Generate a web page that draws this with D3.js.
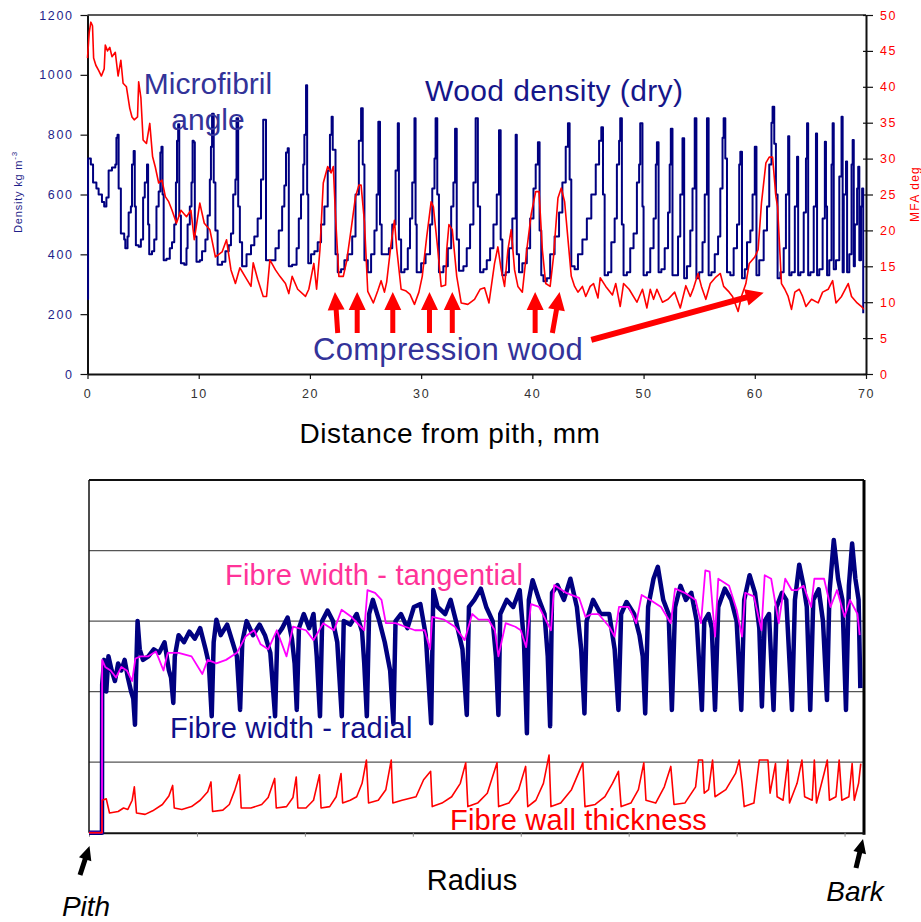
<!DOCTYPE html>
<html>
<head>
<meta charset="utf-8">
<script src="https://cdn.jsdelivr.net/npm/d3@7"></script>
<style>
  html, body { margin: 0; padding: 0; background: #ffffff; }
  svg { display: block; font-family: "Liberation Sans", Arial, sans-serif; }
</style>
</head>
<body>
<svg id="chart" width="921" height="922"></svg>
<script>
// ---------- Upper panel: wood density and microfibril angle vs distance from pith ----------
const densityTicks = [0, 200, 400, 600, 800, 1000, 1200];
const mfaTicks = [0, 5, 10, 15, 20, 25, 30, 35, 40, 45, 50];
const distanceTicks = [0, 10, 20, 30, 40, 50, 60, 70];

// [distance mm, dry density kg/m3]
const density = [
  [0, 250], [0.05, 720], [0.3, 700], [0.5, 640], [0.8, 620], [1.0, 600], [1.3, 575], [1.5, 560], [1.7, 590],
  [1.9, 680], [2.2, 690], [2.5, 700], [2.6, 790], [2.7, 800], [2.8, 620], [3.0, 470], [3.3, 450], [3.4, 420],
  [3.6, 460], [3.7, 540], [3.9, 560], [4.0, 700], [4.15, 745], [4.25, 560], [4.35, 430], [4.6, 425], [4.8, 450],
  [5.0, 590], [5.15, 640], [5.35, 700], [5.45, 500], [5.55, 400], [5.8, 410], [6.0, 450], [6.2, 560], [6.4, 610],
  [6.55, 740], [6.65, 760], [6.75, 600], [6.85, 380], [7.1, 385], [7.4, 420], [7.6, 440], [7.8, 500], [7.95, 640],
  [8.05, 780], [8.15, 835], [8.25, 530], [8.4, 370], [8.7, 365], [8.9, 420], [9.0, 500], [9.2, 560], [9.35, 640],
  [9.45, 780], [9.55, 775], [9.65, 460], [9.8, 375], [10.1, 380], [10.3, 410], [10.6, 450], [10.8, 530], [11.0, 650],
  [11.1, 760], [11.2, 870], [11.35, 640], [11.5, 480], [11.7, 365], [12.1, 375], [12.4, 410], [12.7, 430], [12.9, 470],
  [13.1, 600], [13.3, 650], [13.4, 855], [13.55, 560], [13.7, 440], [13.9, 360], [14.3, 400], [14.7, 430], [15.0, 460],
  [15.3, 520], [15.6, 650], [15.8, 850], [15.9, 850], [16.05, 380], [16.5, 380], [16.9, 420], [17.2, 480], [17.5, 560],
  [17.7, 630], [17.85, 740], [18.0, 755], [18.1, 360], [18.4, 365], [18.8, 420], [19.0, 520], [19.2, 600], [19.4, 700],
  [19.5, 800], [19.65, 965], [19.75, 600], [19.85, 370], [20.1, 400], [20.4, 410], [20.7, 440], [21.0, 500], [21.3, 560],
  [21.6, 680], [21.8, 800], [21.95, 860], [22.05, 750], [22.3, 400], [22.5, 340], [22.8, 350], [23.1, 380], [23.4, 400],
  [23.8, 460], [24.1, 600], [24.4, 780], [24.6, 888], [24.75, 700], [24.9, 380], [25.2, 340], [25.5, 400], [25.8, 480],
  [26.0, 600], [26.15, 843], [26.3, 500], [26.45, 400], [26.8, 400], [27.1, 420], [27.4, 500], [27.7, 680], [27.9, 838],
  [28.0, 450], [28.2, 340], [28.5, 350], [28.8, 420], [29.0, 520], [29.2, 640], [29.4, 855], [29.5, 500], [29.6, 340],
  [30.0, 370], [30.4, 400], [30.8, 500], [31.0, 620], [31.2, 720], [31.3, 855], [31.45, 600], [31.6, 340], [32.0, 360],
  [32.4, 420], [32.7, 560], [32.9, 640], [33.05, 820], [33.2, 450], [33.4, 345], [33.8, 360], [34.1, 420], [34.4, 500],
  [34.7, 640], [34.9, 855], [35.1, 560], [35.3, 340], [35.6, 350], [35.9, 380], [36.2, 420], [36.5, 500], [36.8, 600],
  [37.0, 815], [37.15, 450], [37.3, 330], [37.6, 340], [37.9, 420], [38.2, 520], [38.5, 800], [38.6, 400], [38.8, 340],
  [39.1, 370], [39.5, 420], [39.8, 520], [40.1, 620], [40.3, 700], [40.5, 775], [40.65, 480], [40.8, 330], [41.0, 310],
  [41.3, 320], [41.6, 400], [42.0, 460], [42.4, 540], [42.7, 640], [43.0, 760], [43.2, 838], [43.35, 650], [43.5, 360],
  [43.8, 350], [44.1, 400], [44.5, 450], [44.9, 520], [45.3, 600], [45.7, 700], [46.0, 780], [46.2, 825], [46.35, 600],
  [46.5, 330], [46.8, 340], [47.1, 440], [47.4, 520], [47.6, 700], [47.8, 780], [47.9, 855], [48.05, 500], [48.2, 330],
  [48.5, 340], [48.8, 420], [49.1, 470], [49.4, 640], [49.6, 700], [49.7, 838], [49.9, 560], [50.0, 330], [50.3, 340],
  [50.6, 420], [50.9, 520], [51.1, 700], [51.2, 775], [51.35, 340], [51.6, 350], [51.9, 420], [52.2, 540], [52.35, 700],
  [52.45, 820], [52.6, 330], [52.8, 330], [53.1, 460], [53.3, 600], [53.5, 788], [53.65, 320], [53.9, 360], [54.2, 480],
  [54.4, 620], [54.6, 855], [54.75, 320], [55.0, 340], [55.3, 440], [55.5, 600], [55.7, 855], [55.85, 330], [56.1, 340],
  [56.4, 400], [56.7, 460], [56.9, 620], [57.1, 790], [57.2, 855], [57.35, 720], [57.5, 340], [57.8, 330], [58.1, 420],
  [58.4, 500], [58.6, 700], [58.7, 743], [58.85, 320], [59.1, 350], [59.3, 440], [59.6, 480], [59.8, 600], [60.0, 760],
  [60.15, 330], [60.4, 380], [60.8, 480], [61.1, 560], [61.3, 700], [61.5, 840], [61.6, 893], [61.75, 770], [61.9, 600],
  [62.05, 320], [62.3, 340], [62.6, 420], [62.8, 600], [63.0, 795], [63.1, 330], [63.3, 340], [63.6, 560], [63.8, 726],
  [63.9, 330], [64.1, 340], [64.4, 540], [64.6, 720], [64.7, 838], [64.8, 330], [65.0, 340], [65.3, 560], [65.5, 804],
  [65.6, 330], [65.8, 350], [66.1, 520], [66.3, 776], [66.4, 560], [66.5, 330], [66.7, 380], [66.9, 700], [67.0, 838],
  [67.1, 350], [67.3, 380], [67.6, 660], [67.8, 860], [67.9, 340], [68.0, 600], [68.2, 710], [68.3, 340], [68.5, 400],
  [68.7, 700], [68.8, 782], [68.9, 360], [69.0, 500], [69.2, 620], [69.3, 693], [69.4, 380], [69.55, 560], [69.65, 620],
  [69.75, 203]
];

// [distance mm, microfibril angle deg]
const mfa = [
  [0, 44.0], [0.15, 47.5], [0.3, 49.0], [0.45, 48.5], [0.55, 44.0], [0.75, 43.0], [1.0, 42.3], [1.25, 41.5], [1.5, 42.5],
  [1.6, 45.8], [1.8, 45.0], [2.0, 45.5], [2.2, 44.2], [2.5, 44.8], [2.75, 41.5], [3.0, 43.7], [3.2, 40.5], [3.5, 40.0],
  [3.8, 37.0], [4.0, 35.8], [4.2, 35.4], [4.5, 35.8], [4.6, 40.7], [4.8, 38.5], [5.0, 32.6], [5.3, 32.1], [5.6, 34.9],
  [5.85, 30.3], [6.1, 28.8], [6.4, 26.6], [6.7, 27.0], [7.0, 24.7], [7.3, 24.0], [7.6, 22.8], [8.0, 21.0], [8.4, 22.8],
  [8.9, 21.9], [9.3, 22.8], [9.6, 18.7], [10.1, 23.8], [10.5, 21.0], [11.0, 20.1], [11.5, 16.3], [12.1, 17.0], [12.5, 18.7],
  [12.9, 14.5], [13.3, 12.6], [13.7, 14.8], [14.2, 13.5], [14.7, 12.2], [14.9, 15.5], [15.3, 13.2], [15.8, 10.8], [16.1, 10.8],
  [16.4, 15.9], [16.9, 14.5], [17.3, 13.6], [17.8, 12.6], [18.1, 11.2], [18.4, 13.6], [18.9, 11.8], [19.6, 10.8], [19.9, 11.8],
  [20.35, 15.4], [20.6, 11.8], [20.9, 17.3], [21.2, 26.6], [21.6, 28.9], [21.9, 28.0], [22.1, 28.9], [22.3, 22.0], [22.6, 13.6],
  [23.0, 13.6], [23.3, 15.7], [23.7, 20.1], [24.1, 24.7], [24.4, 26.3], [24.6, 26.3], [24.9, 21.2], [25.2, 11.5], [25.7, 9.9],
  [26.1, 11.6], [26.4, 13.0], [26.7, 11.4], [26.9, 12.8], [27.3, 18.2], [27.6, 21.4], [27.8, 17.5], [28.2, 11.8], [28.6, 11.6],
  [29.0, 11.1], [29.4, 9.7], [29.8, 11.4], [30.1, 13.6], [30.5, 19.1], [30.9, 24.0], [31.1, 23.3], [31.5, 17.3], [31.8, 12.2],
  [32.2, 12.4], [32.3, 17.3], [32.5, 20.8], [32.8, 20.1], [33.2, 13.6], [33.6, 9.9], [34.2, 9.7], [34.8, 10.4], [35.3, 11.8],
  [35.7, 12.0], [36.1, 9.9], [36.6, 15.4], [36.9, 17.7], [37.2, 14.5], [37.5, 12.2], [37.8, 17.3], [38.1, 20.1], [38.4, 14.5],
  [38.7, 12.2], [39.1, 11.4], [39.5, 17.3], [39.9, 22.3], [40.3, 25.4], [40.6, 25.4], [40.9, 17.3], [41.2, 12.6], [41.6, 12.2],
  [41.9, 16.3], [42.3, 24.5], [42.6, 25.9], [42.9, 24.0], [43.5, 13.6], [43.8, 12.2], [44.1, 11.4], [44.5, 12.2], [44.8, 10.8],
  [45.2, 12.2], [45.5, 12.6], [45.9, 10.6], [46.1, 13.4], [46.6, 12.2], [47.2, 11.0], [47.5, 12.6], [47.9, 9.4], [48.2, 12.6],
  [48.7, 11.8], [49.4, 10.0], [49.9, 11.8], [50.3, 9.2], [50.6, 11.8], [50.9, 10.4], [51.2, 11.8], [51.7, 10.0], [52.2, 10.4],
  [52.8, 11.4], [53.3, 9.2], [53.8, 12.3], [54.2, 10.8], [54.5, 12.0], [54.9, 14.0], [55.2, 12.2], [55.6, 10.4], [56.0, 12.6],
  [56.5, 13.5], [56.9, 14.0], [57.2, 12.2], [57.7, 11.4], [58.0, 10.8], [58.5, 8.7], [58.8, 10.8], [59.2, 12.6], [59.5, 15.4],
  [60.0, 16.3], [60.3, 17.3], [60.6, 23.8], [61.0, 29.4], [61.3, 30.2], [61.6, 30.2], [61.9, 24.7], [62.05, 23.3], [62.4, 12.6],
  [62.7, 11.8], [63.0, 10.8], [63.3, 9.0], [63.6, 11.4], [64.0, 11.8], [64.3, 10.8], [64.6, 9.4], [65.1, 10.4], [65.7, 9.9],
  [66.1, 11.4], [66.6, 11.8], [67.0, 13.0], [67.3, 9.9], [67.8, 10.8], [68.4, 12.6], [68.7, 10.8], [69.2, 9.9], [69.6, 9.4],
  [69.8, 9.0]
];

// compression wood markers: [from mm, from kg/m3, to mm, to kg/m3]
const compressionArrows = [
  [22.5, 137, 22.25, 274], [24.25, 137, 24.25, 274], [27.45, 137, 27.45, 274], [30.75, 137, 30.75, 274],
  [32.8, 137, 32.8, 274], [40.25, 137, 40.25, 274], [41.8, 137, 42.45, 274], [45.3, 114, 60.8, 272]
];

// ---------- Lower panel: fibre dimensions across the radius ----------
const radiusTicks = [0, 10, 20, 30, 40, 50, 60, 70];
const fibreGrid = [1, 2, 3, 4];

// [radius, radial fibre width]
const radialWidth = [
  [0, 0], [1.2, 0], [1.22, 2.1], [1.4, 2.45], [1.6, 2.0], [1.8, 2.5], [2.1, 2.3], [2.4, 2.15], [2.7, 2.4], [3.0, 2.3],
  [3.3, 2.45], [3.6, 2.2], [3.9, 2.0], [4.1, 1.9], [4.26, 1.53], [4.35, 2.2], [4.5, 3.0], [4.7, 2.6], [5.0, 2.45], [5.5, 2.5],
  [6.0, 2.6], [6.5, 2.55], [7.0, 2.7], [7.4, 2.3], [7.6, 2.2], [7.81, 1.84], [7.95, 2.5], [8.3, 2.8], [8.8, 2.7], [9.3, 2.85],
  [9.8, 2.75], [10.3, 2.9], [10.8, 2.6], [11.1, 2.4], [11.37, 1.65], [11.55, 2.7], [11.8, 3.02], [12.2, 2.8], [12.8, 2.95],
  [13.3, 2.7], [13.7, 2.5], [14.0, 1.74], [14.2, 2.7], [14.6, 3.0], [15.2, 2.8], [15.8, 2.95], [16.3, 2.8], [16.8, 2.55],
  [17.24, 1.65], [17.45, 2.8], [17.9, 2.9], [18.4, 3.05], [18.8, 2.75], [19.05, 2.4], [19.25, 1.74], [19.45, 2.9], [19.9, 3.1],
  [20.4, 2.9], [20.8, 3.1], [21.1, 2.5], [21.4, 1.65], [21.6, 3.0], [22.1, 3.15], [22.6, 3.0], [23.0, 2.7], [23.42, 1.65],
  [23.6, 3.0], [24.2, 2.95], [24.8, 3.1], [25.3, 2.85], [25.5, 2.4], [25.74, 1.65], [25.95, 3.1], [26.3, 3.3], [26.9, 3.0],
  [27.4, 2.7], [27.9, 2.3], [28.2, 1.55], [28.4, 3.0], [28.9, 3.1], [29.5, 2.9], [30.1, 3.2], [30.7, 3.24], [31.2, 2.8],
  [31.7, 1.55], [31.9, 3.44], [32.3, 3.2], [33.0, 3.1], [33.5, 3.3], [34.0, 3.0], [34.6, 2.6], [35.0, 1.67], [35.2, 3.2],
  [35.7, 3.3], [36.3, 3.46], [36.8, 3.2], [37.4, 3.0], [37.7, 2.5], [37.93, 1.67], [38.1, 3.1], [38.7, 3.3], [39.3, 3.2],
  [39.9, 3.44], [40.3, 2.7], [40.57, 1.41], [40.75, 3.3], [41.1, 3.58], [41.7, 3.3], [42.2, 3.1], [42.5, 2.5], [42.72, 1.51],
  [42.9, 3.4], [43.4, 3.51], [44.0, 3.3], [44.6, 3.6], [45.2, 3.2], [45.6, 2.6], [45.9, 1.69], [46.1, 3.0], [46.7, 3.3],
  [47.4, 3.1], [48.2, 3.1], [48.7, 2.6], [49.05, 1.74], [49.3, 3.1], [49.8, 3.27], [50.5, 3.1], [51.0, 2.8], [51.3, 2.5],
  [51.53, 1.69], [51.8, 3.2], [52.3, 3.6], [52.7, 3.77], [53.2, 3.3], [53.7, 3.1], [54.0, 1.74], [54.3, 3.2], [54.8, 3.5],
  [55.3, 3.3], [55.8, 3.4], [56.3, 3.0], [56.78, 1.74], [57.0, 3.0], [57.4, 3.1], [57.7, 2.9], [58.0, 1.74], [58.3, 3.2],
  [58.9, 3.46], [59.5, 3.3], [60.0, 3.0], [60.43, 1.74], [60.7, 3.3], [61.2, 3.65], [61.7, 3.4], [62.1, 2.9], [62.34, 1.79],
  [62.6, 3.0], [63.0, 3.1], [63.42, 1.74], [63.7, 3.2], [64.2, 3.4], [64.6, 3.3], [65.13, 1.74], [65.4, 3.3], [65.8, 3.8],
  [66.2, 3.5], [66.5, 3.2], [66.82, 1.74], [67.1, 3.3], [67.6, 3.45], [68.0, 3.0], [68.37, 1.88], [68.6, 3.4], [69.0, 4.15],
  [69.4, 3.6], [69.8, 3.3], [70.13, 1.74], [70.4, 3.5], [70.7, 4.1], [71.0, 3.6], [71.3, 3.3], [71.46, 2.05]
];

// [radius, tangential fibre width]
const tangentialWidth = [
  [0, 0], [1.2, 0], [1.22, 2.45], [1.5, 2.35], [2.0, 2.3], [2.5, 2.2], [3.0, 2.35], [3.5, 2.3], [4.0, 2.15], [4.3, 2.47],
  [4.8, 2.5], [5.5, 2.5], [6.2, 2.57], [6.9, 2.3], [7.3, 2.55], [8.3, 2.55], [9.5, 2.5], [10.5, 2.25], [11.0, 2.45],
  [11.8, 2.4], [12.7, 2.45], [13.7, 2.55], [14.5, 2.78], [15.3, 2.87], [15.9, 2.67], [16.6, 2.6], [17.4, 2.87], [18.3, 2.5],
  [18.9, 2.92], [20.1, 2.87], [20.8, 2.73], [21.7, 2.97], [22.7, 2.87], [23.4, 3.16], [24.3, 3.06], [25.5, 2.87], [25.8, 3.44],
  [26.5, 3.4], [27.1, 3.3], [27.5, 2.97], [28.4, 2.97], [29.3, 2.92], [30.2, 2.87], [31.1, 2.87], [31.6, 2.6], [31.8, 3.06],
  [32.9, 3.02], [33.9, 2.92], [34.8, 2.73], [35.5, 3.1], [36.1, 3.02], [37.0, 3.02], [37.6, 2.87], [37.93, 2.5], [38.6, 2.97],
  [39.5, 2.92], [40.0, 2.87], [40.5, 2.63], [40.95, 3.24], [41.7, 3.2], [42.3, 3.02], [42.8, 2.87], [43.1, 3.51], [44.2, 3.4],
  [45.4, 3.33], [46.0, 3.06], [46.6, 3.1], [47.2, 3.1], [48.2, 2.92], [48.7, 2.78], [49.1, 3.2], [50.0, 3.2], [50.7, 2.97],
  [51.2, 3.37], [52.0, 3.3], [53.0, 3.2], [53.9, 2.97], [54.3, 3.46], [55.2, 3.4], [56.2, 3.3], [56.7, 2.97], [57.1, 3.72],
  [57.5, 3.7], [58.0, 2.78], [58.3, 3.6], [59.3, 3.5], [60.0, 3.16], [60.5, 2.78], [60.8, 3.4], [61.6, 3.35], [62.3, 2.87],
  [62.6, 3.65], [63.2, 3.6], [63.9, 2.97], [64.5, 3.6], [65.1, 3.44], [65.6, 3.44], [66.2, 3.5], [66.9, 3.2], [67.2, 3.6],
  [68.1, 3.6], [68.7, 3.2], [69.3, 3.44], [70.0, 3.06], [70.5, 3.3], [71.2, 3.1], [71.4, 2.8]
];

// [radius, fibre wall thickness]
const wallThickness = [
  [0, 0], [1.2, 0], [1.22, 0.46], [1.6, 0.48], [1.9, 0.28], [2.7, 0.3], [3.2, 0.35], [3.6, 0.33], [4.0, 0.46], [4.2, 0.65],
  [4.4, 0.28], [5.2, 0.26], [5.9, 0.31], [6.8, 0.4], [7.4, 0.52], [7.75, 0.67], [7.9, 0.35], [8.6, 0.33], [9.5, 0.37],
  [10.3, 0.46], [11.0, 0.58], [11.3, 0.72], [11.45, 0.3], [12.4, 0.32], [13.0, 0.4], [13.5, 0.6], [13.95, 0.82], [14.1, 0.35],
  [15.0, 0.35], [16.0, 0.4], [16.6, 0.5], [17.2, 0.77], [17.35, 0.35], [18.3, 0.37], [18.9, 0.5], [19.2, 0.79], [19.35, 0.35],
  [20.1, 0.35], [20.8, 0.46], [21.35, 0.82], [21.5, 0.35], [22.3, 0.37], [22.9, 0.51], [23.35, 0.84], [23.5, 0.42],
  [24.2, 0.46], [24.8, 0.51], [25.3, 0.7], [25.7, 1.03], [25.9, 0.42], [26.8, 0.46], [27.5, 0.61], [28.0, 1.03], [28.15, 0.42],
  [29.0, 0.46], [30.3, 0.51], [31.0, 0.75], [31.65, 0.87], [31.8, 0.37], [32.7, 0.42], [33.6, 0.51], [34.4, 0.7], [34.9, 0.99],
  [35.1, 0.37], [36.0, 0.42], [36.9, 0.56], [37.8, 0.99], [37.95, 0.37], [38.9, 0.42], [39.8, 0.61], [40.45, 0.94],
  [40.65, 0.37], [41.4, 0.46], [42.1, 0.7], [42.62, 1.1], [42.8, 0.37], [43.7, 0.42], [44.7, 0.61], [45.75, 0.99], [45.95, 0.37],
  [46.9, 0.4], [47.8, 0.51], [48.5, 0.7], [49.05, 0.87], [49.3, 0.37], [50.2, 0.42], [50.9, 0.61], [51.4, 0.99], [51.6, 0.46],
  [52.5, 0.42], [53.3, 0.65], [53.9, 0.94], [54.2, 0.4], [55.2, 0.42], [56.2, 0.65], [56.47, 1.03], [56.84, 1.03], [57.0, 0.56],
  [57.4, 0.61], [57.77, 1.03], [58.0, 0.51], [59.0, 0.61], [59.9, 0.84], [60.24, 1.03], [60.5, 0.7], [60.7, 0.37], [61.6, 0.42],
  [62.1, 1.03], [62.9, 1.03], [63.1, 0.56], [63.6, 0.98], [63.75, 0.51], [64.3, 0.46], [64.75, 1.03], [64.9, 0.42], [65.6, 0.7],
  [66.05, 1.03], [66.3, 0.51], [67.0, 0.46], [67.2, 1.03], [67.4, 0.42], [68.1, 0.84], [68.4, 1.03], [68.6, 0.46], [69.2, 0.51],
  [69.5, 1.03], [69.75, 0.46], [70.4, 0.51], [70.7, 0.98], [70.9, 0.46], [71.3, 0.7], [71.5, 0.98]
];

// ---------- drawing ----------
const svg = d3.select("#chart");
svg.append("rect").attr("width", 921).attr("height", 922).attr("fill", "#ffffff");

const NAVY = "#000080";
const LABEL_NAVY = "#333399";
const RED = "#ff0000";
const FONT = "Liberation Sans, Arial, sans-serif";

// shaft-and-head arrow polygon from (x1,y1) to tip (x2,y2)
function arrowPath(x1, y1, x2, y2, shaft, headW, headL) {
  const dx = x2 - x1, dy = y2 - y1, len = Math.hypot(dx, dy);
  const ux = dx / len, uy = dy / len, px = -uy, py = ux;
  const bx = x2 - ux * headL, by = y2 - uy * headL;
  const pts = [
    [x1 + px * shaft / 2, y1 + py * shaft / 2],
    [bx + px * shaft / 2, by + py * shaft / 2],
    [bx + px * headW / 2, by + py * headW / 2],
    [x2, y2],
    [bx - px * headW / 2, by - py * headW / 2],
    [bx - px * shaft / 2, by - py * shaft / 2],
    [x1 - px * shaft / 2, y1 - py * shaft / 2]
  ];
  return "M" + pts.map(p => p.join(",")).join("L") + "Z";
}

// ===== upper panel =====
const x = d3.scaleLinear().domain([0, 70]).range([87.5, 866]);
const yD = d3.scaleLinear().domain([0, 1200]).range([374, 15]);
const yM = d3.scaleLinear().domain([0, 50]).range([374, 15]);

const upper = svg.append("g");

// frame top edge
upper.append("line").attr("x1", x(0)).attr("x2", x(70)).attr("y1", yD(1200)).attr("y2", yD(1200))
  .attr("stroke", "#222").attr("stroke-width", 1.5);

const plain = d3.format("d");
const axL = upper.append("g").attr("transform", `translate(${x(0)},0)`)
  .call(d3.axisLeft(yD).tickValues(densityTicks).tickFormat(plain).tickSize(7).tickPadding(7).tickSizeOuter(0));
axL.select(".domain").attr("stroke", "#111").attr("stroke-width", 2);
axL.selectAll(".tick line").attr("stroke", "#111").attr("stroke-width", 1.2);
axL.selectAll(".tick text").attr("fill", "#1f1f8a").style("font-size", "12.5px").style("letter-spacing", "1.6px")
  .style("font-family", FONT);

const axR = upper.append("g").attr("transform", `translate(${x(70)},0)`)
  .call(d3.axisRight(yM).tickValues(mfaTicks).tickFormat(plain).tickSize(7).tickPadding(7).tickSizeOuter(0));
axR.select(".domain").attr("stroke", "#111").attr("stroke-width", 2);
axR.selectAll(".tick line").attr("stroke", "#111").attr("stroke-width", 1.2).attr("x1", -3);
axR.selectAll(".tick text").attr("fill", RED).style("font-size", "12.5px").style("letter-spacing", "1.6px")
  .style("font-family", FONT);

const axB = upper.append("g").attr("transform", `translate(0,${yD(0)})`)
  .call(d3.axisBottom(x).tickValues(distanceTicks).tickFormat(plain).tickSize(5).tickPadding(10).tickSizeOuter(0));
axB.select(".domain").attr("stroke", "#111").attr("stroke-width", 2);
axB.selectAll(".tick line").attr("stroke", "#111").attr("stroke-width", 1.2);
axB.selectAll(".tick text").attr("fill", "#333").style("font-size", "12.5px").style("letter-spacing", "1.6px")
  .style("font-family", FONT);

// series
upper.append("path").datum(density)
  .attr("d", d3.line().curve(d3.curveStepAfter).x(d => x(d[0])).y(d => yD(d[1])))
  .attr("fill", "none").attr("stroke", NAVY).attr("stroke-width", 2).attr("stroke-linejoin", "round");
upper.append("path").datum(mfa)
  .attr("d", d3.line().x(d => x(d[0])).y(d => yM(d[1])))
  .attr("fill", "none").attr("stroke", RED).attr("stroke-width", 1.6).attr("stroke-linejoin", "round");

// axis titles
const dens = upper.append("text").attr("transform", "translate(22,192) rotate(-90)").attr("text-anchor", "middle")
  .attr("fill", "#1f1f8a").style("font-size", "11px").style("letter-spacing", "0.8px");
dens.append("tspan").text("Density  kg m");
dens.append("tspan").attr("dy", -5).style("font-size", "8px").text("-3");
upper.append("text").attr("transform", "translate(919,194) rotate(-90)").attr("text-anchor", "middle")
  .attr("fill", RED).style("font-size", "12px").style("letter-spacing", "1.2px").text("MFA deg");
upper.append("text").attr("x", 450).attr("y", 443).attr("text-anchor", "middle").attr("fill", "#000")
  .style("font-size", "28px").style("letter-spacing", "0.6px").text("Distance from pith, mm");

// annotations
upper.append("text").attr("x", 208).attr("y", 94).attr("text-anchor", "middle").attr("fill", LABEL_NAVY)
  .style("font-size", "30px").text("Microfibril");
upper.append("text").attr("x", 208).attr("y", 130).attr("text-anchor", "middle").attr("fill", LABEL_NAVY)
  .style("font-size", "30px").text("angle");
upper.append("text").attr("x", 425).attr("y", 101).attr("fill", "#16168a")
  .style("font-size", "30px").style("letter-spacing", "0.4px").text("Wood density (dry)");
upper.append("text").attr("x", 313).attr("y", 360).attr("fill", LABEL_NAVY)
  .style("font-size", "31px").style("letter-spacing", "0.3px").text("Compression wood");

upper.selectAll("path.cw").data(compressionArrows).enter().append("path").attr("class", "cw")
  .attr("d", (d, i) => arrowPath(x(d[0]), yD(d[1]), x(d[2]), yD(d[3]), i === 7 ? 6 : 5, 17, 18))
  .attr("fill", RED);

// ===== lower panel =====
const xb = d3.scaleLinear().domain([0, 71.8]).range([89, 864]);
const yb = d3.scaleLinear().domain([0, 5]).range([832.7, 480]);
const lower = svg.append("g");

lower.selectAll("line.grid").data(fibreGrid).enter().append("line").attr("class", "grid")
  .attr("x1", xb(0)).attr("x2", xb(71.8)).attr("y1", d => yb(d)).attr("y2", d => yb(d))
  .attr("stroke", "#555").attr("stroke-width", 1.2);
// frame
lower.append("line").attr("x1", xb(0)).attr("x2", xb(71.8)).attr("y1", yb(5)).attr("y2", yb(5))
  .attr("stroke", "#111").attr("stroke-width", 2);
lower.append("line").attr("x1", xb(0)).attr("x2", xb(0)).attr("y1", yb(5)).attr("y2", yb(0))
  .attr("stroke", "#111").attr("stroke-width", 1.5);
lower.append("line").attr("x1", xb(71.8)).attr("x2", xb(71.8)).attr("y1", yb(5)).attr("y2", yb(0) + 2)
  .attr("stroke", "#000").attr("stroke-width", 3);

const axBB = lower.append("g").attr("transform", `translate(0,${yb(0)})`)
  .call(d3.axisBottom(xb).tickValues(radiusTicks).tickSize(4).tickFormat("").tickSizeOuter(0));
axBB.select(".domain").attr("stroke", "#111").attr("stroke-width", 2);
axBB.selectAll(".tick line").attr("stroke", "#888").attr("stroke-width", 1);

const lineB = d3.line().x(d => xb(d[0])).y(d => yb(d[1]));
lower.append("path").datum(radialWidth).attr("d", lineB)
  .attr("fill", "none").attr("stroke", NAVY).attr("stroke-width", 4.5).attr("stroke-linejoin", "round");
lower.append("path").datum(tangentialWidth).attr("d", lineB)
  .attr("fill", "none").attr("stroke", "#ff00ff").attr("stroke-width", 1.8).attr("stroke-linejoin", "round");
lower.append("path").datum(wallThickness).attr("d", lineB)
  .attr("fill", "none").attr("stroke", RED).attr("stroke-width", 1.6).attr("stroke-linejoin", "round");

lower.append("text").attr("x", 225).attr("y", 585).attr("fill", "#ff3399")
  .style("font-size", "29px").style("letter-spacing", "0.2px").text("Fibre width - tangential");
lower.append("text").attr("x", 170).attr("y", 738).attr("fill", "#10108a")
  .style("font-size", "29px").style("letter-spacing", "0.2px").text("Fibre width - radial");
lower.append("text").attr("x", 450).attr("y", 830).attr("fill", RED)
  .style("font-size", "29px").style("letter-spacing", "0.2px").text("Fibre wall thickness");
lower.append("text").attr("x", 472).attr("y", 890).attr("text-anchor", "middle").attr("fill", "#000")
  .style("font-size", "29px").text("Radius");
lower.append("text").attr("x", 86).attr("y", 916).attr("text-anchor", "middle").attr("fill", "#000")
  .style("font-size", "28px").style("font-style", "italic").text("Pith");
lower.append("text").attr("x", 855).attr("y", 901).attr("text-anchor", "middle").attr("fill", "#000")
  .style("font-size", "28px").style("font-style", "italic").text("Bark");

// pith and bark pointers
lower.append("path").attr("d", arrowPath(80, 875, 89.5, 846, 5, 13, 14)).attr("fill", "#000");
lower.append("path").attr("d", arrowPath(856, 868, 863, 839, 5, 13, 14)).attr("fill", "#000");
</script>
</body>
</html>
